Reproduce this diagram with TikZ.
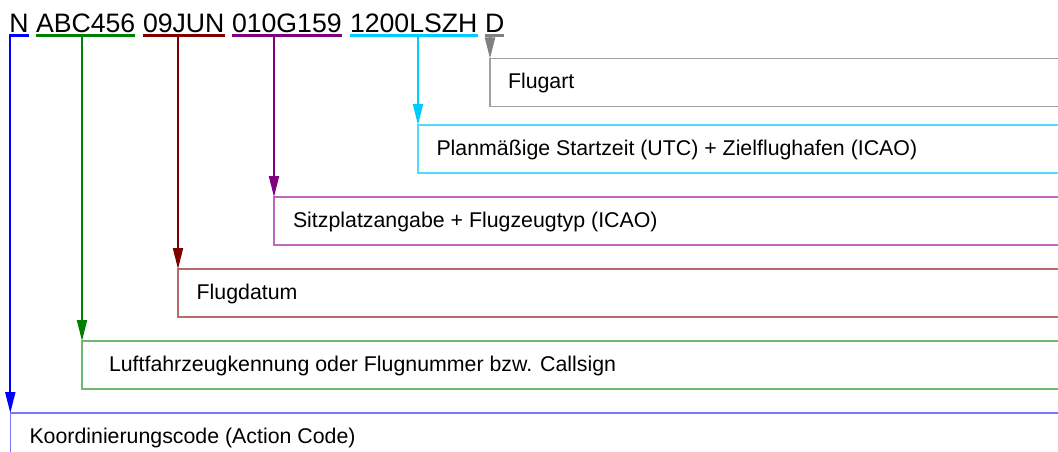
\documentclass[tikz,border=0pt]{standalone}
\usepackage{fontspec}
\setmainfont{Liberation Sans}
\usetikzlibrary{arrows.meta}
\definecolor{cN}{RGB}{0,0,255}
\definecolor{cNb}{RGB}{120,120,255}
\definecolor{cA}{RGB}{0,128,0}
\definecolor{cAb}{RGB}{110,185,110}
\definecolor{cD}{RGB}{128,0,0}
\definecolor{cDb}{RGB}{185,105,105}
\definecolor{cS}{RGB}{128,0,128}
\definecolor{cSb}{RGB}{190,105,190}
\definecolor{cT}{RGB}{0,204,255}
\definecolor{cTb}{RGB}{80,220,255}
\definecolor{cF}{RGB}{128,128,128}
\definecolor{cFb}{RGB}{160,160,160}
\begin{document}
\begin{tikzpicture}[x=1pt,y=-1pt,
  word/.style={anchor=base west, inner sep=0pt, outer sep=0pt, font=\fontsize{26.67}{30}\selectfont},
  boxlabel/.style={anchor=base west, inner sep=0pt, outer sep=0pt, font=\fontsize{21.33}{24}\selectfont},
  uline/.style={line width=3.6pt},
  conn/.style={line width=2pt, -{Triangle[length=21pt,width=10pt]}},
  frame/.style={line width=1.3pt},
]
\useasboundingbox (0,0) rectangle (1058,452);

% header words
\node[word] (wN) at (9.3,33) {N};
\node[word] (wA) at (36,33) {ABC456};
\node[word] (wD) at (143,33) {09JUN};
\node[word] (wS) at (232,33) {010G159};
\node[word] (wT) at (350,33) {1200LSZH};
\node[word] (wF) at (485,33) {D};

% underlines
\foreach \w/\c in {wN/cN, wA/cA, wD/cD, wS/cS, wT/cT, wF/cF}{
  \draw[uline,\c] ([yshift=-2.5pt]\w.base west) -- ([yshift=-2.5pt]\w.base east);
}

% start coordinates on the underlines
\coordinate (sN) at (10.3,35.5);
\coordinate (sA) at (82,35.5);
\coordinate (sD) at (178,35.5);
\coordinate (sS) at (274,35.5);
\coordinate (sT) at (418,35.5);
\coordinate (sF) at (490,35.5);

% box top-left corners
\coordinate (bF) at (490,58.5);
\coordinate (bT) at (418,125);
\coordinate (bS) at (274,197);
\coordinate (bD) at (178,269);
\coordinate (bA) at (82,341);
\coordinate (bN) at (10.3,413);

% boxes (open to the right)
\draw[frame,cFb] (1060,58.5) -- (bF) -- (490,106.5) -- (1060,106.5);
\draw[frame,cTb] (1060,125) -- (bT) -- (418,173) -- (1060,173);
\draw[frame,cSb] (1060,197) -- (bS) -- (274,245) -- (1060,245);
\draw[frame,cDb] (1060,269) -- (bD) -- (178,317) -- (1060,317);
\draw[frame,cAb] (1060,341) -- (bA) -- (82,389) -- (1060,389);
\draw[frame,cNb] (1060,413) -- (bN) -- (10.3,460);

% box labels
\node[boxlabel] (lF) at (508,88.5) {Flugart};
\node[boxlabel] (lT) at (436.5,155) {Planmäßige Startzeit (UTC) + Zielflughafen (ICAO)};
\node[boxlabel] (lS) at (293,227) {Sitzplatzangabe + Flugzeugtyp (ICAO)};
\node[boxlabel] (lD) at (196.7,299.3) {Flugdatum};
\node[boxlabel] (lA) at (109,371) {Luftfahrzeugkennung oder Flugnummer bzw. Callsign};
\node[boxlabel] (lN) at (29.5,443) {Koordinierungscode (Action Code)};

% connectors
\draw[conn,cN] (sN) -- (bN);
\draw[conn,cA] (sA) -- (bA);
\draw[conn,cD] (sD) -- (bD);
\draw[conn,cS] (sS) -- (bS);
\draw[conn,cT] (sT) -- (bT);
\draw[conn,cF] (sF) -- (bF);
\end{tikzpicture}
\end{document}
